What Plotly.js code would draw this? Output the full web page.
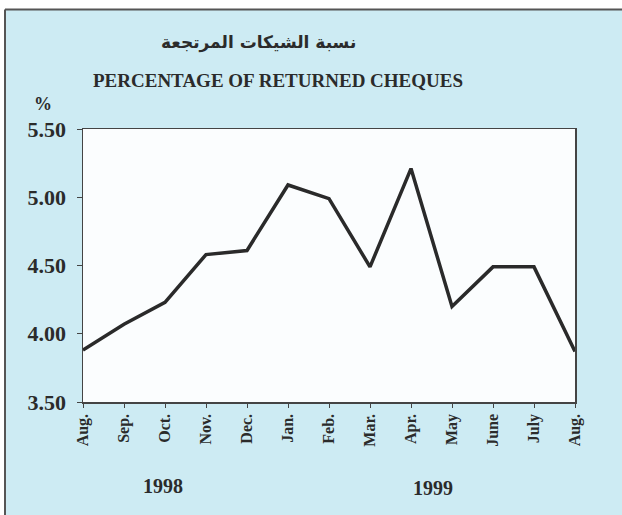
<!DOCTYPE html>
<html>
<head>
<meta charset="utf-8">
<script src="https://cdn.plot.ly/plotly-3.0.1.min.js"></script>
<style>html,body{margin:0;padding:0;background:#fff;}#chart{width:622px;height:515px;}</style>
</head>
<body>
<div id="chart"></div>
<script>
const months = ["Aug.","Sep.","Oct.","Nov.","Dec.","Jan.","Feb.","Mar.","Apr.","May","June","July","Aug."];
const returnedPct = [3.88, 4.07, 4.23, 4.58, 4.61, 5.09, 4.99, 4.49, 5.21, 4.20, 4.49, 4.49, 3.87];
const yTicks = [3.5, 4.0, 4.5, 5.0, 5.5];
const yearLabels = ["1998", "1999"];
const titleAr = "نسبة الشيكات المرتجعة";
const titleEn = "PERCENTAGE OF RETURNED CHEQUES";

const W = 622, H = 515, ML = 83, MR = 47, MT = 129, MB = 113;
const PW = W - ML - MR, PH = H - MT - MB;
const px = x => (x - ML) / PW;
const py = y => (H - MB - y) / PH;

const serif = "Liberation Serif, Times New Roman, serif";
const ink = "#2b2b2b";
const xIdx = months.map((m, i) => i);

const trace = {
  x: xIdx, y: returnedPct, type: "scatter", mode: "lines",
  line: {color: "#2a2a2a", width: 3.5}, hoverinfo: "skip"
};

const layout = {
  width: W, height: H,
  margin: {l: ML, r: MR, t: MT, b: MB, pad: 0},
  paper_bgcolor: "#cdebf3",
  plot_bgcolor: "#fbfdfe",
  showlegend: false,
  font: {family: serif, color: ink},
  xaxis: {
    range: [0, 12], tickvals: xIdx, ticktext: months, tickangle: -90,
    ticks: "outside", ticklen: 4, tickcolor: "#444", tickwidth: 1,
    showline: true, linecolor: "#444", linewidth: 1.5, mirror: true,
    showgrid: false, zeroline: false,
    tickfont: {family: serif, size: 16, color: ink, weight: "bold"}
  },
  yaxis: {
    range: [3.5, 5.5], tickvals: yTicks, tickformat: ".2f",
    ticks: "outside", ticklen: 5, tickcolor: "#444", tickwidth: 1,
    showline: true, linecolor: "#444", linewidth: 1.5, mirror: true,
    showgrid: false, zeroline: false, ticklabelstandoff: 6,
    tickfont: {family: serif, size: 22, color: ink, weight: "bold"}
  },
  shapes: [
    {type: "rect", xref: "paper", yref: "paper", x0: px(-5), x1: px(W + 5), y0: py(9.5), y1: py(-5), fillcolor: "#ffffff", line: {width: 0}, layer: "below"},
    {type: "rect", xref: "paper", yref: "paper", x0: px(-5), x1: px(5), y0: py(H + 5), y1: py(-5), fillcolor: "#ffffff", line: {width: 0}, layer: "below"},
    {type: "line", xref: "paper", yref: "paper", x0: px(5), x1: px(W + 5), y0: py(9.5), y1: py(9.5), line: {color: "#555", width: 2}},
    {type: "line", xref: "paper", yref: "paper", x0: px(5), x1: px(5), y0: py(9.5), y1: py(H + 5), line: {color: "#555", width: 2}}
  ],
  annotations: [
    {text: titleAr, xref: "paper", yref: "paper", x: px(258), y: py(42), showarrow: false, xanchor: "center", yanchor: "middle",
     font: {family: "DejaVu Sans, Noto Sans, sans-serif", size: 17, color: ink, weight: "bold"}},
    {text: titleEn, xref: "paper", yref: "paper", x: px(278), y: py(80), showarrow: false, xanchor: "center", yanchor: "middle",
     font: {family: serif, size: 19, color: ink, weight: "bold"}},
    {text: "%", xref: "paper", yref: "paper", x: px(43), y: py(104), showarrow: false, xanchor: "center", yanchor: "middle",
     font: {family: serif, size: 18, color: ink, weight: "bold"}},
    {text: yearLabels[0], xref: "paper", yref: "paper", x: px(163), y: py(486), showarrow: false, xanchor: "center", yanchor: "middle",
     font: {family: serif, size: 20, color: ink, weight: "bold"}},
    {text: yearLabels[1], xref: "paper", yref: "paper", x: px(433), y: py(488), showarrow: false, xanchor: "center", yanchor: "middle",
     font: {family: serif, size: 20, color: ink, weight: "bold"}}
  ]
};

Plotly.newPlot("chart", [trace], layout, {displayModeBar: false, staticPlot: true});
</script>
</body>
</html>
